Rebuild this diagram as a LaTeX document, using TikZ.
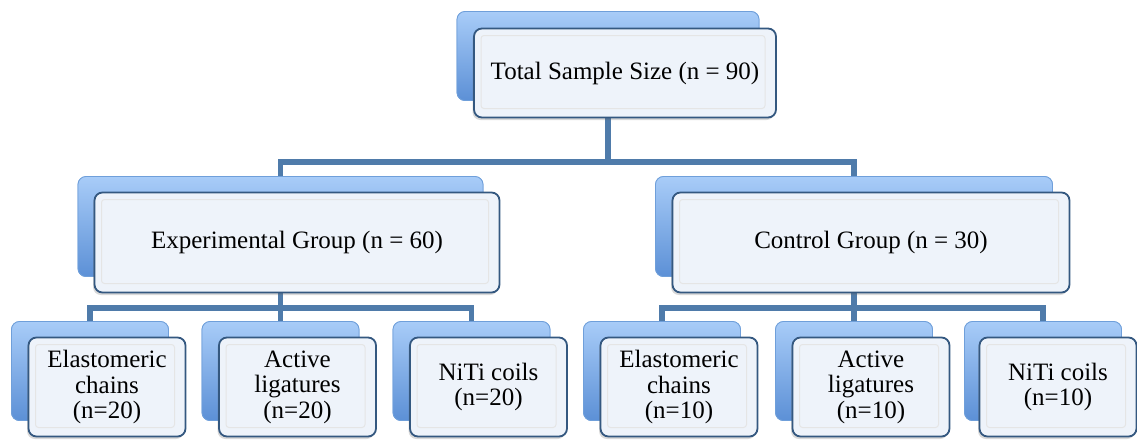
\documentclass[tikz,border=0pt]{standalone}
\usepackage{fontspec}
\setmainfont{Liberation Serif}
\usetikzlibrary{shadows}
\definecolor{backtop}{HTML}{A8CCF8}
\definecolor{backbot}{HTML}{5C90D6}
\definecolor{backedge}{HTML}{6F9FDA}
\definecolor{frontfill}{HTML}{EEF3FA}
\definecolor{frontedge}{HTML}{345880}
\definecolor{connc}{HTML}{4F7BAA}
\tikzset{
  backbox/.style={rectangle, rounded corners=8pt, top color=backtop, bottom color=backbot,
    draw=backedge, line width=0.8pt, inner sep=0pt},
  frontbox/.style={rectangle, rounded corners=8pt, fill=frontfill, draw=frontedge,
    line width=1.8pt, inner sep=0pt, align=center,
    font=\fontsize{25}{25.5}\selectfont,
    drop shadow={opacity=0.25, shadow xshift=-1.5pt, shadow yshift=-2.5pt, fill=black!60},
    path picture={\draw[black!10, line width=1pt, rounded corners=3pt]
      ([shift={(7pt,-7pt)}]path picture bounding box.north west) rectangle
      ([shift={(-11pt,9pt)}]path picture bounding box.south east);}},
  topsize/.style={minimum width=302pt, minimum height=89pt},
  midA/.style={minimum width=405pt, minimum height=100pt},
  midB/.style={minimum width=397pt, minimum height=100pt},
  leaf/.style={minimum width=157pt, minimum height=99pt},
  connector/.style={draw=connc, line width=5.5pt}
}
\begin{document}
\begin{tikzpicture}[x=1pt, y=-1pt]
\useasboundingbox (0,0) rectangle (1137,440);
% junction coordinates
\coordinate (j1) at (608,162);
\coordinate (j2) at (280.5,308);
\coordinate (j3) at (854,308);
% back boxes (used as anchors for connectors)
\path (608,56) node[backbox, topsize] (tb) {};
\path (280.5,226.5) node[backbox, midA] (ab) {};
\path (854,226.5) node[backbox, midB] (bb) {};
\path (90,371) node[backbox, leaf] (l1b) {};
\path (280.5,371) node[backbox, leaf] (l2b) {};
\path (471.5,371) node[backbox, leaf] (l3b) {};
\path (662,371) node[backbox, leaf] (l4b) {};
\path (854,371) node[backbox, leaf] (l5b) {};
\path (1043,371) node[backbox, leaf] (l6b) {};
% connectors
\draw[connector] (tb.south) -- (j1);
\draw[connector] (j1) -| (ab.north);
\draw[connector] (j1) -| (bb.north);
\draw[connector] (ab.south) -- (j2);
\draw[connector] (j2) -| (l1b.north);
\draw[connector] (j2) -- (l2b.north);
\draw[connector] (j2) -| (l3b.north);
\draw[connector] (bb.south) -- (j3);
\draw[connector] (j3) -| (l4b.north);
\draw[connector] (j3) -- (l5b.north);
\draw[connector] (j3) -| (l6b.north);
% redraw back boxes over connectors
\path (608,56) node[backbox, topsize] {};
\path (280.5,226.5) node[backbox, midA] {};
\path (854,226.5) node[backbox, midB] {};
\path (90,371) node[backbox, leaf] {};
\path (280.5,371) node[backbox, leaf] {};
\path (471.5,371) node[backbox, leaf] {};
\path (662,371) node[backbox, leaf] {};
\path (854,371) node[backbox, leaf] {};
\path (1043,371) node[backbox, leaf] {};
% front boxes
\node[frontbox, topsize] (tf) at (625,73) {Total Sample Size (n = 90)};
\node[frontbox, midA] (af) at (297,242.5) {Experimental Group (n = 60)};
\node[frontbox, midB] (bf) at (871,242.5) {Control Group (n = 30)};
\node[frontbox, leaf] (l1f) at (107,387) {Elastomeric\\chains\\(n=20)};
\node[frontbox, leaf] (l2f) at (297.5,387) {Active\\ligatures\\(n=20)};
\node[frontbox, leaf] (l3f) at (488.5,387) {NiTi coils\\(n=20)};
\node[frontbox, leaf] (l4f) at (679,387) {Elastomeric\\chains\\(n=10)};
\node[frontbox, leaf] (l5f) at (871,387) {Active\\ligatures\\(n=10)};
\node[frontbox, leaf] (l6f) at (1058,387) {NiTi coils\\(n=10)};
\end{tikzpicture}
\end{document}
